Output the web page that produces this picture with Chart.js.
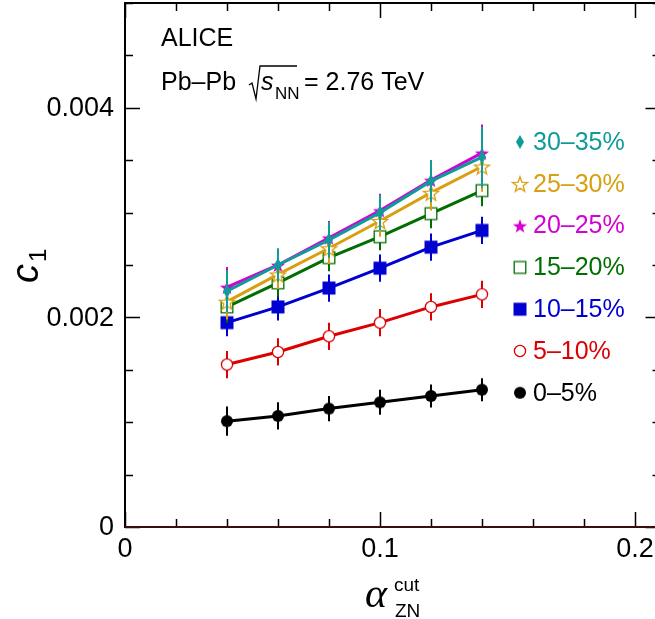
<!DOCTYPE html>
<html lang="en">
<head>
  <meta charset="UTF-8">
  <title>c1 vs alpha ZN cut</title>
  <style>
    body {
      margin: 0;
      padding: 0;
      background-color: white;
      overflow: hidden;
    }
    #wrap {
      width: 662px;
      height: 619px;
    }
  </style>
</head>
<body>
  <div id="wrap">
    <canvas id="myChart" width="662" height="619"></canvas>
  </div>

  <script src="https://cdn.jsdelivr.net/npm/chart.js"></script>
  <script>
    // alpha_ZN^cut values
    const alphaCut = [0.04, 0.06, 0.08, 0.10, 0.12, 0.14];

    // c1 per centrality class
    const c1_0_5   = [0.00101, 0.00106, 0.00113, 0.00119, 0.00125, 0.00131];
    const c1_5_10  = [0.00155, 0.00167, 0.00182, 0.00195, 0.00210, 0.00222];
    const c1_10_15 = [0.00195, 0.00210, 0.00228, 0.00247, 0.00267, 0.00283];
    const c1_15_20 = [0.00210, 0.00233, 0.00257, 0.00277, 0.00299, 0.00321];
    const c1_20_25 = [0.00229, 0.00250, 0.00276, 0.00302, 0.00331, 0.00357];
    const c1_25_30 = [0.00215, 0.00241, 0.00266, 0.00292, 0.00319, 0.00344];
    const c1_30_35 = [0.00225, 0.00250, 0.00274, 0.00300, 0.00330, 0.00353];

    // vertical error bars (half size)
    const err_0_5   = [0.00014, 0.00013, 0.00012, 0.00012, 0.00011, 0.00011];
    const err_5_10  = [0.00013, 0.00013, 0.00013, 0.00013, 0.00013, 0.00013];
    const err_10_15 = [0.00013, 0.00013, 0.00013, 0.00013, 0.00013, 0.00013];
    const err_15_20 = [0.00015, 0.00013, 0.00013, 0.00013, 0.00014, 0.00015];
    const err_20_25 = [0.00019, 0.00015, 0.00016, 0.00016, 0.00019, 0.00027];
    const err_25_30 = [0.00017, 0.00014, 0.00015, 0.00015, 0.00017, 0.00024];
    const err_30_35 = [0.00020, 0.00016, 0.00017, 0.00017, 0.00020, 0.00029];

    const centLabels = ["0–5%", "5–10%", "10–15%", "15–20%", "20–25%", "25–30%", "30–35%"];
    const legendOrder = ["30–35%", "25–30%", "20–25%", "15–20%", "10–15%", "5–10%", "0–5%"];

    const xTickValues = [0, 0.1, 0.2];
    const xTickLabels = ["0", "0.1", "0.2"];
    const yTickValues = [0, 0.002, 0.004];
    const yTickLabels = ["0", "0.002", "0.004"];

    const FONT = '"Liberation Sans", Arial, sans-serif';

    // marker images (ROOT style markers)
    function makeMarker(kind, color) {
      const c = document.createElement("canvas");
      c.width = 20;
      c.height = 20;
      const g = c.getContext("2d");
      g.translate(10, 10);
      g.fillStyle = color;
      g.strokeStyle = color;
      g.lineWidth = 1.3;
      g.beginPath();
      if (kind === "circle" || kind === "ocircle") {
        g.arc(0, 0, kind === "circle" ? 6 : 5.6, 0, Math.PI * 2);
      } else if (kind === "square") {
        g.rect(-6.5, -6.5, 13, 13);
      } else if (kind === "osquare") {
        g.rect(-5.8, -5.8, 11.6, 11.6);
      } else if (kind === "star" || kind === "ostar") {
        const R = kind === "star" ? 7.5 : 8, r = kind === "star" ? 3 : 3.3;
        for (let i = 0; i < 10; i++) {
          const a = -Math.PI / 2 + i * Math.PI / 5;
          const rr = i % 2 === 0 ? R : r;
          const px = rr * Math.cos(a), py = rr * Math.sin(a) + 1;
          if (i === 0) g.moveTo(px, py); else g.lineTo(px, py);
        }
        g.closePath();
      } else if (kind === "diamond") {
        g.moveTo(0, -7);
        g.lineTo(4, 0);
        g.lineTo(0, 7);
        g.lineTo(-4, 0);
        g.closePath();
      }
      if (kind.charAt(0) === "o") {
        g.fillStyle = "white";
        g.fill();
        g.stroke();
      } else {
        g.fill();
      }
      return c;
    }

    const colors = ["#000000", "#dd0000", "#0000d0", "#006e00", "#d400d4", "#d8a010", "#109b9b"];
    const kinds = ["circle", "ocircle", "square", "osquare", "star", "ostar", "diamond"];
    const series = [c1_0_5, c1_5_10, c1_10_15, c1_15_20, c1_20_25, c1_25_30, c1_30_35];
    const errors = [err_0_5, err_5_10, err_10_15, err_15_20, err_20_25, err_25_30, err_30_35];
    const markers = kinds.map((k, i) => makeMarker(k, colors[i]));

    // later graphs are drawn on top (as in the original plot)
    const datasets = series.map((vals, i) => ({
      label: centLabels[i],
      data: alphaCut.map((x, j) => ({ x: x, y: vals[j] })),
      errs: errors[i],
      order: series.length - 1 - i,
      showLine: true,
      borderColor: colors[i],
      borderWidth: 3,
      pointStyle: markers[i],
      pointRadius: 7,
      pointHoverRadius: 7,
      backgroundColor: colors[i],
    }));

    const framePlugin = {
      id: "frame",
      beforeDatasetDraw(chart, args) {
        // error bars of this graph, under its line and markers
        const ds = chart.data.datasets[args.index];
        const xs = chart.scales.x, ys = chart.scales.y;
        const ctx = chart.ctx;
        ctx.save();
        ctx.strokeStyle = ds.borderColor;
        ctx.lineWidth = 2;
        ds.data.forEach((p, j) => {
          const px = xs.getPixelForValue(p.x);
          ctx.beginPath();
          ctx.moveTo(px, ys.getPixelForValue(p.y - ds.errs[j]));
          ctx.lineTo(px, ys.getPixelForValue(p.y + ds.errs[j]));
          ctx.stroke();
        });
        ctx.restore();
      },
      afterDraw(chart) {
        const ctx = chart.ctx;
        const a = chart.chartArea;
        const xs = chart.scales.x, ys = chart.scales.y;
        ctx.save();
        ctx.strokeStyle = "black";
        ctx.lineWidth = 2;
        ctx.strokeRect(a.left, a.top, a.right - a.left, a.bottom - a.top);

        // ticks pointing inwards
        ctx.lineWidth = 1.5;
        for (let i = 0; i <= 10; i++) {
          const v = i * 0.02;
          const px = Math.round(xs.getPixelForValue(v)) + 0.5;
          const len = (i % 5 === 0) ? 15 : 8;
          ctx.beginPath();
          ctx.moveTo(px, a.bottom);
          ctx.lineTo(px, a.bottom - len);
          ctx.moveTo(px, a.top);
          ctx.lineTo(px, a.top + len);
          ctx.stroke();
        }
        for (let i = 0; i <= 10; i++) {
          const v = i * 0.0005;
          const py = Math.round(ys.getPixelForValue(v)) + 0.5;
          const len = (i % 4 === 0) ? 15 : 8;
          ctx.beginPath();
          ctx.moveTo(a.left, py);
          ctx.lineTo(a.left + len, py);
          ctx.moveTo(a.right, py);
          ctx.lineTo(a.right - len, py);
          ctx.stroke();
        }
        // zero line
        ctx.strokeStyle = "#7a1a1a";
        ctx.lineWidth = 1.2;
        ctx.beginPath();
        ctx.moveTo(a.left, ys.getPixelForValue(0));
        ctx.lineTo(a.right, ys.getPixelForValue(0));
        ctx.stroke();

        // tick labels, placed with the scales
        ctx.fillStyle = "black";
        ctx.font = "27px " + FONT;
        ctx.textAlign = "center";
        ctx.textBaseline = "top";
        xTickValues.forEach((v, i) => {
          ctx.fillText(xTickLabels[i], xs.getPixelForValue(v), a.bottom + 9);
        });
        ctx.textAlign = "right";
        ctx.textBaseline = "middle";
        yTickValues.forEach((v, i) => {
          ctx.fillText(yTickLabels[i], a.left - 11, ys.getPixelForValue(v) + 1);
        });
        ctx.textAlign = "left";

        // header text
        ctx.strokeStyle = "black";
        ctx.font = "25px " + FONT;
        ctx.textBaseline = "alphabetic";
        ctx.fillText("ALICE", 161, 46);
        ctx.fillText("Pb–Pb", 161, 90);
        ctx.lineWidth = 1.3;
        ctx.beginPath();
        ctx.moveTo(249, 85);
        ctx.lineTo(252, 83);
        ctx.lineTo(256, 99);
        ctx.lineTo(260, 66);
        ctx.lineTo(297, 66);
        ctx.stroke();
        ctx.font = "italic 25px " + FONT;
        ctx.fillText("s", 261, 90);
        ctx.font = "17px " + FONT;
        ctx.fillText("NN", 275, 99);
        ctx.font = "25px " + FONT;
        ctx.fillText("= 2.76 TeV", 304, 90);

        // legend
        legendOrder.forEach((lab, i) => {
          const k = centLabels.indexOf(lab);
          const y = 142 + i * 41.8;
          ctx.drawImage(markers[k], 520 - 10, y - 10);
          ctx.fillStyle = colors[k];
          ctx.font = "25px " + FONT;
          ctx.textBaseline = "middle";
          ctx.fillText(lab, 533, y + 1);
        });

        // axis titles
        ctx.fillStyle = "black";
        ctx.textBaseline = "alphabetic";
        ctx.font = 'italic 42px "Liberation Serif", "Times New Roman", serif';
        ctx.fillText("α", 365, 607);
        ctx.font = "19px " + FONT;
        ctx.fillText("cut", 394, 591);
        ctx.fillText("ZN", 395, 617);

        ctx.save();
        ctx.translate(38, 283);
        ctx.rotate(-Math.PI / 2);
        ctx.font = "italic 38px " + FONT;
        ctx.fillText("c", 0, 0);
        ctx.font = "24px " + FONT;
        ctx.fillText("1", 21, 8);
        ctx.restore();
        ctx.restore();
      }
    };

    const ctx = document.getElementById("myChart").getContext("2d");
    const myChart = new Chart(ctx, {
      type: "scatter",
      data: { datasets: datasets },
      options: {
        responsive: false,
        animation: false,
        events: [],
        layout: { autoPadding: false, padding: { left: 0, right: 1.5, top: 3, bottom: 0 } },
        plugins: {
          legend: { display: false },
          tooltip: { enabled: false },
        },
        scales: {
          x: {
            type: "linear",
            min: 0,
            max: 0.21,
            border: { display: false },
            grid: { display: false, drawTicks: false },
            ticks: { display: false },
            afterFit: (s) => { s.height = 92; },
          },
          y: {
            type: "linear",
            min: 0,
            max: 0.005,
            border: { display: false },
            grid: { display: false, drawTicks: false },
            ticks: { display: false },
            afterFit: (s) => { s.width = 125; },
          },
        },
      },
      plugins: [framePlugin],
    });
  </script>
</body>
</html>
